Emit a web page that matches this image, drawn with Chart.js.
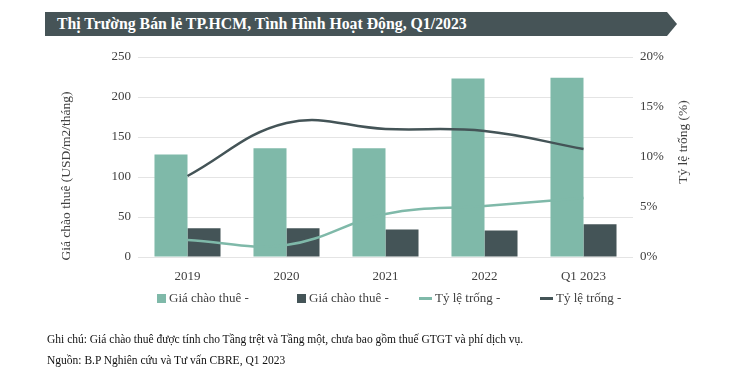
<!DOCTYPE html>
<html>
<head>
<meta charset="utf-8">
<script src="https://cdn.jsdelivr.net/npm/chart.js@4.4.1/dist/chart.umd.min.js"></script>
<style>
  html,body{margin:0;padding:0;background:#fff;}
  #wrap{position:relative;width:738px;height:376px;overflow:hidden;font-family:"Liberation Serif","Times New Roman",serif;}
  #banner{position:absolute;left:45px;top:12px;width:632px;height:24px;background:#465457;
    clip-path:polygon(0 0,622px 0,632px 12px,622px 24px,0 24px);}
  #banner span{position:absolute;left:12px;top:3px;color:#fff;font-weight:bold;font-size:15.8px;white-space:nowrap;}
  canvas{position:absolute;left:0;top:0;}
  #legend{position:absolute;top:289px;left:0;width:738px;height:18px;font-size:13px;color:#404040;}
  #legend .it{position:absolute;top:0;display:flex;align-items:center;height:18px;white-space:nowrap;}
  #legend .sw{display:inline-block;margin-right:3px;}
  .note{position:absolute;left:47px;font-size:11.5px;color:#111;white-space:nowrap;}
</style>
</head>
<body>
<div id="wrap">
  <div id="banner"><span>Thị Trường Bán lẻ TP.HCM, Tình Hình Hoạt Động, Q1/2023</span></div>
  <canvas id="c" width="738" height="376"></canvas>
  <div id="legend"></div>
  <div class="note" style="top:333px;">Ghi chú: Giá chào thuê được tính cho Tầng trệt và Tầng một, chưa bao gồm thuế GTGT và phí dịch vụ.</div>
  <div class="note" style="top:354px;">Nguồn: B.P Nghiên cứu và Tư vấn CBRE, Q1 2023</div>
</div>
<script>
const years=['2019','2020','2021','2022','Q1 2023'];
const rentGround=[128,136,136,223,224];     // Giá chào thuê - (light)
const rentOther=[36,36,34.5,33,41];          // Giá chào thuê - (dark)
const vacancyA=[1.7,1.2,4.3,5.1,5.9];        // Tỷ lệ trống - (light)
const vacancyB=[8.1,13.4,12.8,12.6,10.8];    // Tỷ lệ trống - (dark)
const leftTicks=[0,50,100,150,200,250];
const rightTicks=[0,5,10,15,20];

const LIGHT='#7fb9a9', DARK='#445457';
const FONT='"Liberation Serif","Times New Roman",serif';

const axisTitles={
  id:'axisTitles',
  afterDraw(chart){
    const {ctx}=chart;
    const draw=(txt,x,y)=>{
      ctx.save();
      ctx.fillStyle='#404040';
      ctx.font='13.5px '+FONT;
      ctx.textAlign='center';ctx.textBaseline='middle';
      ctx.translate(x,y);ctx.rotate(-Math.PI/2);
      ctx.fillText(txt,0,0);
      ctx.restore();
    };
    draw('Giá chào thuê (USD/m2/tháng)',66,176);
    draw('Tỷ lệ trống (%)',683,142);
  }
};

const chart=new Chart(document.getElementById('c'),{
  data:{
    labels:years,
    datasets:[
      {type:'line',label:'Tỷ lệ trống -',data:vacancyB,yAxisID:'y2',borderColor:DARK,borderWidth:2.5,pointRadius:0,tension:0.4,order:0},
      {type:'line',label:'Tỷ lệ trống -',data:vacancyA,yAxisID:'y2',borderColor:LIGHT,borderWidth:2.5,pointRadius:0,tension:0.4,order:1},
      {type:'bar',label:'Giá chào thuê -',data:rentGround,yAxisID:'y',backgroundColor:LIGHT,categoryPercentage:0.667,barPercentage:1,order:2},
      {type:'bar',label:'Giá chào thuê -',data:rentOther,yAxisID:'y',backgroundColor:DARK,categoryPercentage:0.667,barPercentage:1,order:3}
    ]
  },
  options:{
    responsive:false,animation:false,
    layout:{padding:{top:57,bottom:89,left:0,right:0}},
    plugins:{legend:{display:false},tooltip:{enabled:false}},
    scales:{
      x:{grid:{display:false},border:{display:false},
         ticks:{color:'#404040',font:{family:FONT,size:13},padding:4},
         afterFit(s){s.height=30;}},
      y:{position:'left',min:0,max:250,
         grid:{color:'#e4e4e4',drawTicks:false},border:{display:false},
         afterBuildTicks(s){s.ticks=leftTicks.map(v=>({value:v}));},
         ticks:{color:'#404040',font:{family:FONT,size:13},padding:7},
         afterFit(s){s.width=138;}},
      y2:{position:'right',min:0,max:20,
         grid:{display:false,drawTicks:false},border:{display:false},
         afterBuildTicks(s){s.ticks=rightTicks.map(v=>({value:v}));},
         ticks:{color:'#404040',font:{family:FONT,size:13},padding:7,callback:v=>v+'%'},
         afterFit(s){s.width=105;}}
    }
  },
  plugins:[axisTitles]
});

// legend built from the datasets
const legendOrder=[2,3,1,0];
const legendX=[157,297,419,540];
const lg=document.getElementById('legend');
legendOrder.forEach((di,i)=>{
  const ds=chart.data.datasets[di];
  const it=document.createElement('div');
  it.className='it';it.style.left=legendX[i]+'px';
  const sw=document.createElement('span');
  sw.className='sw';
  if(ds.type==='bar'){sw.style.width='9px';sw.style.height='9px';sw.style.background=ds.backgroundColor;}
  else{sw.style.width='13px';sw.style.height='3px';sw.style.background=ds.borderColor;}
  it.appendChild(sw);
  it.appendChild(document.createTextNode(ds.label));
  lg.appendChild(it);
});
</script>
</body>
</html>
